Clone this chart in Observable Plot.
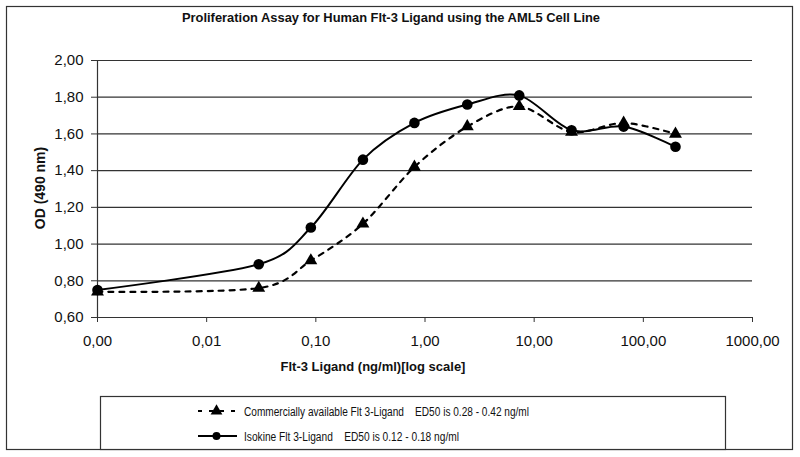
<!DOCTYPE html>
<html><head><meta charset="utf-8">
<script src="https://cdn.jsdelivr.net/npm/d3@7"></script>
<script src="https://cdn.jsdelivr.net/npm/@observablehq/plot@0.6"></script>
<style>body{margin:0;background:#fff} #chart{width:800px;height:457px}</style>
</head><body><div id="chart"></div>
<script>
const concentrations = [0.001, 0.03, 0.09, 0.27, 0.8, 2.44, 7.3, 22, 66, 197];
const commercialOD = [0.74, 0.76, 0.91, 1.11, 1.42, 1.64, 1.75, 1.61, 1.66, 1.60];
const isokineOD = [0.75, 0.89, 1.09, 1.46, 1.66, 1.76, 1.81, 1.62, 1.64, 1.53];
const xTicks = [0.001, 0.01, 0.1, 1, 10, 100, 1000];
const xTickLabels = ["0,00", "0,01", "0,10", "1,00", "10,00", "100,00", "1000,00"];
const yTicks = [0.6, 0.8, 1.0, 1.2, 1.4, 1.6, 1.8, 2.0];
const seriesNames = ["Commercially available Flt 3-Ligand    ED50 is 0.28 - 0.42 ng/ml",
                     "Isokine Flt 3-Ligand    ED50 is 0.12 - 0.18 ng/ml"];
const titleText = "Proliferation Assay for Human Flt-3 Ligand using the AML5 Cell Line";
const xLabel = "Flt-3 Ligand (ng/ml)[log scale]";
const yLabel = "OD (490 nm)";

const commercial = concentrations.map((c, i) => ({c, od: commercialOD[i]}));
const isokine = concentrations.map((c, i) => ({c, od: isokineOD[i]}));
const smooth = d3.curveCardinal.tension(0.1);

const plot = Plot.plot({
  width: 800, height: 457,
  marginLeft: 97, marginRight: 48, marginTop: 60, marginBottom: 140,
  style: {fontFamily: "'Liberation Sans', Arial, sans-serif", fontSize: "15px", color: "#000", background: "#fff", overflow: "visible"},
  x: {type: "log", domain: [0.001, 1000]},
  y: {domain: [0.6, 2.0]},
  marks: [
    Plot.ruleY(yTicks, {stroke: "#333", strokeWidth: 1.2}),
    Plot.ruleX([0.001], {stroke: "#333", strokeWidth: 1.2}),
    Plot.axisY({ticks: yTicks, tickFormat: d => d.toFixed(2).replace(".", ","), tickSize: 6, tickPadding: 8, label: null, stroke: "#333", fill: "#111"}),
    Plot.axisX({ticks: xTicks, tickFormat: d => xTickLabels[xTicks.indexOf(d)], tickSize: 5, tickPadding: 13, label: null, stroke: "#333", fill: "#111"}),
    Plot.line(commercial, {x: "c", y: "od", curve: smooth, stroke: "#000", strokeWidth: 2.2, strokeDasharray: "5,6"}),
    Plot.line(isokine, {x: "c", y: "od", curve: smooth, stroke: "#000", strokeWidth: 2}),
    Plot.dot(commercial, {x: "c", y: "od", symbol: "triangle", r: 4.8, fill: "#000", stroke: null}),
    Plot.dot(isokine, {x: "c", y: "od", symbol: "circle", r: 5.3, fill: "#000", stroke: null})
  ]
});
document.getElementById("chart").appendChild(plot);

const svg = d3.select(plot);
// outer frame
svg.append("rect").attr("x", 6.5).attr("y", 6.5).attr("width", 786).attr("height", 443)
  .attr("fill", "none").attr("stroke", "#333").attr("stroke-width", 1.2);
// title
svg.append("text").attr("x", 391).attr("y", 22).attr("text-anchor", "middle")
  .style("font", "bold 12.9px 'Liberation Sans', Arial, sans-serif").attr("fill", "#111").text(titleText);
// y label
svg.append("text").attr("transform", "translate(45,188) rotate(-90)").attr("text-anchor", "middle")
  .style("font", "bold 14px 'Liberation Sans', Arial, sans-serif").attr("fill", "#111").text(yLabel);
// x label
svg.append("text").attr("x", 373).attr("y", 371).attr("text-anchor", "middle")
  .style("font", "bold 13px 'Liberation Sans', Arial, sans-serif").attr("fill", "#111").text(xLabel);
// legend box
svg.append("rect").attr("x", 100.5).attr("y", 396.5).attr("width", 625).attr("height", 53)
  .attr("fill", "#fff").attr("stroke", "#333").attr("stroke-width", 1.2);
const legendRows = [
  {y: 411, dash: "4,7", symbol: d3.symbolTriangle, size: 60, textLen: 285},
  {y: 436, dash: null, symbol: d3.symbolCircle, size: 50, textLen: 215}
];
legendRows.forEach((r, i) => {
  svg.append("line").attr("x1", 198).attr("x2", 237).attr("y1", r.y).attr("y2", r.y)
    .attr("stroke", "#000").attr("stroke-width", 2).attr("stroke-dasharray", r.dash);
  svg.append("path").attr("d", d3.symbol(r.symbol, r.size)()).attr("transform", `translate(216.5,${r.y})`).attr("fill", "#000");
  svg.append("text").attr("x", 244).attr("y", r.y + 4.5).attr("text-anchor", "start")
    .attr("textLength", r.textLen).attr("lengthAdjust", "spacingAndGlyphs")
    .style("white-space", "pre")
    .style("font", "12px 'Liberation Sans Narrow', 'Arial Narrow', 'Liberation Sans', sans-serif").attr("fill", "#111").text(seriesNames[i]);
});
</script>
</body></html>
